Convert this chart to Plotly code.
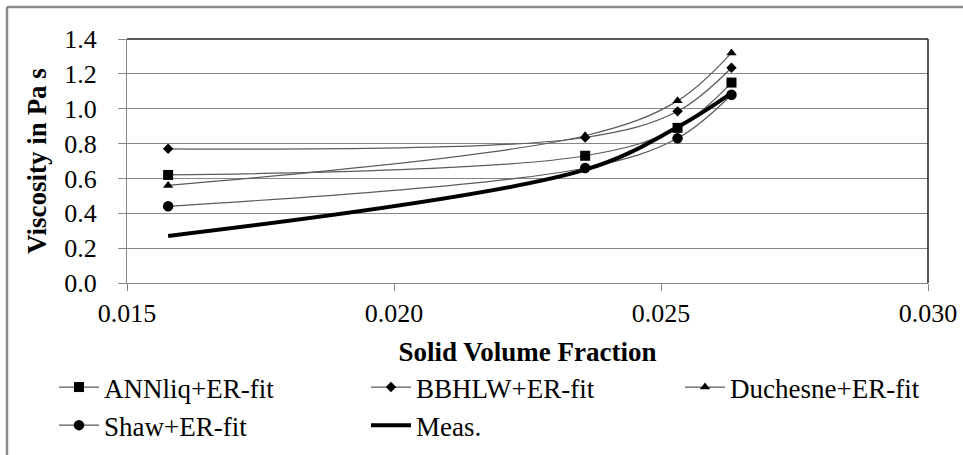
import plotly.graph_objects as go

# ---- data ----
solid_fraction = [0.01577, 0.02358, 0.02531, 0.02632]
annliq = [0.62, 0.73, 0.89, 1.15]
bbhlw = [0.77, 0.835, 0.985, 1.235]
duchesne = [0.56, 0.845, 1.045, 1.32]
shaw = [0.44, 0.66, 0.83, 1.08]
meas = [0.27, 0.65, 0.895, 1.09]

x_ticks = [0.015, 0.020, 0.025, 0.030]
y_ticks = [0.0, 0.2, 0.4, 0.6, 0.8, 1.0, 1.2, 1.4]

W, H = 963, 455
L, R, T, B = 127, 35, 39, 172
pw, ph = W - L - R, H - T - B

def px(x):
    return (x - L) / pw

def py(y):
    return (H - B - y) / ph

FONT = "'Liberation Serif', 'Times New Roman', Times, serif"
thin = dict(color="#5a5a5a", width=1.2, shape="spline", smoothing=1)

fig = go.Figure()
series = [
    ("ANNliq+ER-fit", annliq, "square", 10, "legend"),
    ("BBHLW+ER-fit", bbhlw, "diamond", 8, "legend2"),
    ("Duchesne+ER-fit", duchesne, "triangle-up", 9, "legend3"),
    ("Shaw+ER-fit", shaw, "circle", 10.5, "legend"),
]
for name, vals, sym, size, lg in series:
    fig.add_trace(go.Scatter(
        x=solid_fraction, y=vals, name=name, mode="lines+markers",
        line=thin, marker=dict(symbol=sym, size=size, color="black",
                               line=dict(width=0)),
        legend=lg,
    ))
fig.add_trace(go.Scatter(
    x=solid_fraction, y=meas, name="Meas.", mode="lines",
    line=dict(color="black", width=4, shape="spline", smoothing=1),
    legend="legend2",
))

def leg(xpix):
    return dict(
        orientation="v", x=px(xpix), y=py(363), xanchor="left", yanchor="top",
        font=dict(family=FONT, size=27, color="black"),
        itemwidth=40, bgcolor="rgba(0,0,0,0)", tracegroupgap=0,
        traceorder="normal", itemsizing="trace",
    )

fig.update_layout(
    width=W, height=H,
    margin=dict(l=L, r=R, t=T, b=B, autoexpand=False),
    paper_bgcolor="white", plot_bgcolor="white",
    font=dict(family=FONT, color="black", size=26),
    showlegend=True,
    legend=leg(54), legend2=leg(366), legend3=leg(680),
    xaxis=dict(
        range=[0.015, 0.030], tickvals=x_ticks, tickformat=".3f",
        showgrid=False, showline=True, linecolor="#868686", linewidth=1,
        ticks="outside", ticklen=7, tickcolor="#868686",
        tickfont=dict(family=FONT, size=26),
        title=dict(text="<b>Solid Volume Fraction</b>",
                   font=dict(family=FONT, size=27), standoff=14),
        zeroline=False, automargin=False,
    ),
    yaxis=dict(
        range=[0, 1.4], tickvals=y_ticks, tickformat=".1f",
        showgrid=True, gridcolor="#868686", gridwidth=1,
        showline=True, linecolor="#868686", linewidth=1,
        ticks="outside", ticklen=8, tickcolor="#868686",
        ticklabelstandoff=16,
        tickfont=dict(family=FONT, size=26),
        title=dict(text="<b>Viscosity in Pa s</b>",
                   font=dict(family=FONT, size=27), standoff=9),
        zeroline=False, automargin=False,
    ),
    shapes=[
        # plot-area top and right borders
        dict(type="line", xref="paper", yref="paper", x0=0, x1=1, y0=1, y1=1,
             line=dict(color="#202020", width=1.5)),
        dict(type="line", xref="paper", yref="paper", x0=1, x1=1, y0=0, y1=1,
             line=dict(color="#202020", width=1.5)),
        # outer chart border (left and top visible)
        dict(type="line", xref="paper", yref="paper", x0=px(7), x1=px(7),
             y0=py(7), y1=py(470), line=dict(color="#8a8a8a", width=2.5)),
        dict(type="line", xref="paper", yref="paper", x0=px(7), x1=px(975),
             y0=py(7), y1=py(7), line=dict(color="#8a8a8a", width=2.5)),
    ],
)

fig.write_html("out.html", config={"displayModeBar": False},
               post_script="document.body.style.margin='0';")
